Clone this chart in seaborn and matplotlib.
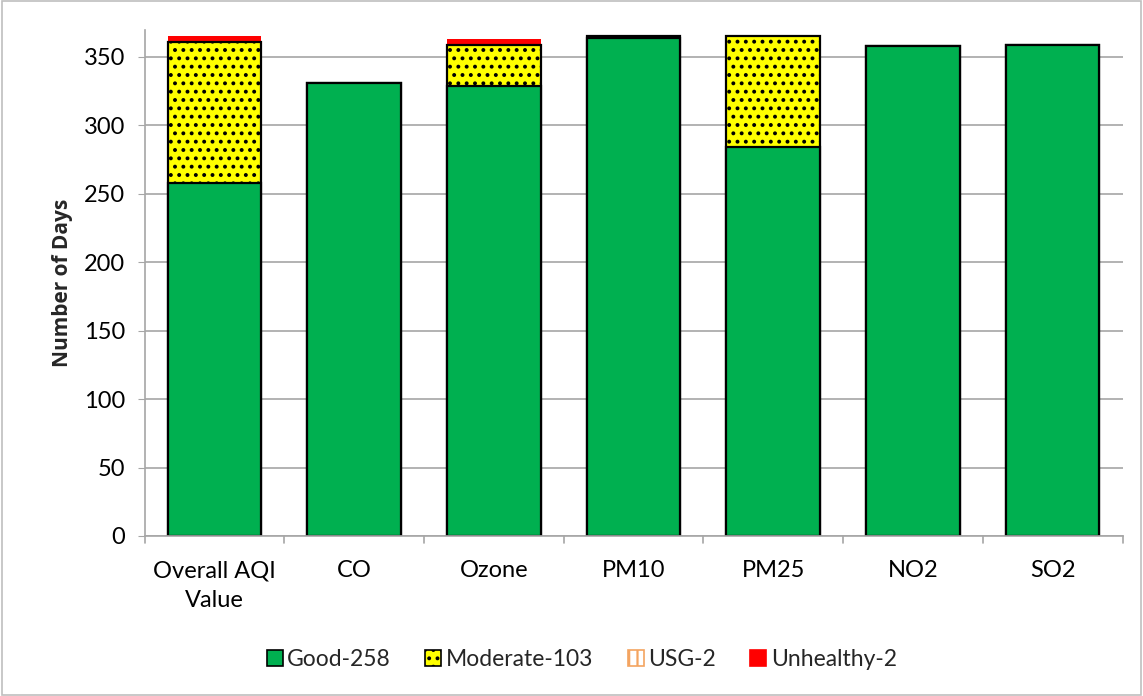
import matplotlib
matplotlib.use("Agg")
import matplotlib.pyplot as plt
from matplotlib.patches import Patch, Rectangle
import numpy as np
import seaborn as sns

# ── Data ─────────────────────────────────────────────────────────────────────
categories = ["Overall AQI\nValue", "CO", "Ozone", "PM10", "PM25", "NO2", "SO2"]
good      = [258, 331, 329, 364, 284, 358, 359]
moderate  = [103,   0,  30,   1,  81,   0,   0]
usg       = [  2,   0,   2,   0,   0,   0,   0]
unhealthy = [  2,   0,   2,   0,   0,   0,   0]
legend_labels = ["Good-258", "Moderate-103", "USG-2", "Unhealthy-2"]

GREEN, YELLOW, ORANGE, RED = "#00b050", "#ffff00", "#f4a460", "#ff0000"
FS = 17

sns.set_style("white")
plt.rcParams["font.family"] = ["Lato", "DejaVu Sans"]
plt.rcParams["hatch.linewidth"] = 1.6

fig = plt.figure(figsize=(11.43, 6.96), dpi=100)
ax = fig.add_axes([0.1265, 0.2299, 0.8556, 0.7277])

# cumulative stacks, drawn back to front
c_good = np.array(good)
c_mod = c_good + np.array(moderate)
c_usg = c_mod + np.array(usg)
c_unh = c_usg + np.array(unhealthy)

W = 0.67
sns.barplot(x=categories, y=c_usg, color="white", saturation=1, width=W,
            edgecolor=ORANGE, linewidth=0, hatch="||", ax=ax)
sns.barplot(x=categories, y=c_unh, color=RED, saturation=1, width=W,
            linewidth=0, ax=ax)
sns.barplot(x=categories, y=c_mod, color=YELLOW, saturation=1, width=W,
            edgecolor="black", linewidth=1.6, hatch="..", ax=ax)
sns.barplot(x=categories, y=c_good, color=GREEN, saturation=1, width=W,
            edgecolor="black", linewidth=1.6, ax=ax)

# ── Axes styling ─────────────────────────────────────────────────────────────
ax.set_ylim(0, 370)
ax.set_yticks(range(0, 351, 50))
ax.yaxis.grid(True, color="#a6a6a6", linewidth=1.2)
ax.set_axisbelow(True)
for s in ["top", "right"]:
    ax.spines[s].set_visible(False)
for s in ["left", "bottom"]:
    ax.spines[s].set_color("#a6a6a6")
    ax.spines[s].set_linewidth(1.2)
ax.tick_params(axis="y", labelsize=FS, colors="black", length=5,
               color="#a6a6a6", direction="out", left=True, pad=9)
ax.tick_params(axis="x", labelsize=FS, colors="black", bottom=False, pad=14)
ax.set_xticks(range(len(categories)))
ax.set_xticklabels(categories, fontsize=FS, linespacing=1.5)
ax.set_xlabel("")
ax.set_ylabel("Number of Days", fontsize=15, fontweight="bold",
              family=["Open Sans", "DejaVu Sans"], labelpad=8)
# category separators on x-axis
for i in range(len(categories) + 1):
    ax.plot([i - 0.5, i - 0.5], [0, -5], color="#a6a6a6", lw=1.2,
            clip_on=False)
ax.set_xlim(-0.5, len(categories) - 0.5)

# ── Legend ───────────────────────────────────────────────────────────────────
handles = [
    Patch(facecolor=GREEN, edgecolor="black", linewidth=1.2),
    Patch(facecolor=YELLOW, edgecolor="black", linewidth=1.2, hatch=".."),
    Patch(facecolor="white", edgecolor=ORANGE, linewidth=1.2, hatch="||"),
    Patch(facecolor=RED, edgecolor=RED, linewidth=1.2),
]
fig.legend(handles, legend_labels, loc="center", bbox_to_anchor=(0.509, 0.052),
           ncol=4, frameon=False, fontsize=16.5, handlelength=0.7,
           handleheight=0.7, handletextpad=0.2, columnspacing=1.5)

# figure border
fig.patches.append(Rectangle((0.002, 0.002), 0.996, 0.996, transform=fig.transFigure,
                             fill=False, edgecolor="#bfbfbf", linewidth=1.2))

fig.savefig("out.png", dpi=100)
plt.close(fig)
